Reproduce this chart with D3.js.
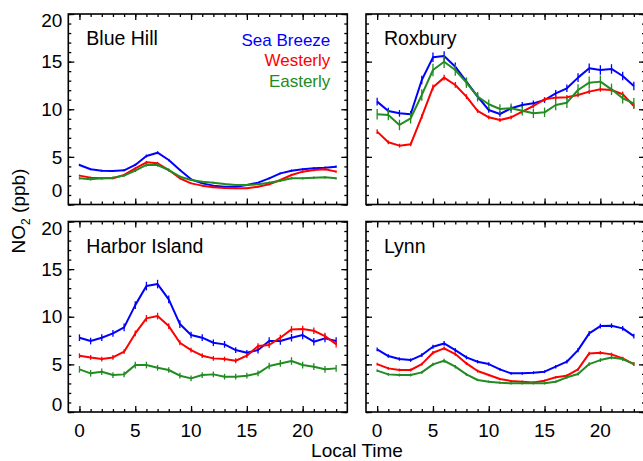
<!DOCTYPE html>
<html>
<head>
<meta charset="utf-8">
<script src="https://cdn.jsdelivr.net/npm/d3@7"></script>
<style>
  body { margin: 0; background: #fff; }
  svg { display: block; }
  text { font-family: "Liberation Sans", Arial, Helvetica, sans-serif; fill: #000; }
</style>
</head>
<body>
<svg id="chart" width="643" height="461"></svg>
<script>
// Hour of day (local time)
const hours = [0, 1, 2, 3, 4, 5, 6, 7, 8, 9, 10, 11, 12, 13, 14, 15, 16, 17, 18, 19, 20, 21, 22, 23];

const sites = ["Blue Hill", "Roxbury", "Harbor Island", "Lynn"];
const regimes = ["Sea Breeze", "Westerly", "Easterly"];
const regimeColors = ["#0000ff", "#ff0000", "#228b22"];

const xTicks = [0, 5, 10, 15, 20];
const yTicks = [0, 5, 10, 15, 20];
const xLabel = "Local Time";

// Mean NO2 (ppb) by hour — Blue Hill
const blueHillSea  = [4.15, 3.70, 3.55, 3.52, 3.59, 4.15, 5.09, 5.44, 4.67, 3.62, 2.64, 2.22, 1.98, 1.87, 1.87, 2.05, 2.29, 2.75, 3.27, 3.55, 3.69, 3.80, 3.87, 3.97];
const blueHillWest = [3.03, 2.82, 2.75, 2.75, 3.10, 3.80, 4.43, 4.32, 3.62, 2.75, 2.22, 1.98, 1.80, 1.73, 1.70, 1.70, 1.87, 2.12, 2.57, 3.10, 3.45, 3.62, 3.69, 3.45];
const blueHillEast = [2.75, 2.64, 2.75, 2.82, 3.03, 3.55, 4.15, 4.15, 3.62, 2.92, 2.57, 2.40, 2.29, 2.15, 2.05, 2.05, 2.12, 2.29, 2.50, 2.75, 2.75, 2.82, 2.85, 2.75];

// Roxbury
const roxburySea  = [10.80, 9.82, 9.57, 9.47, 13.07, 15.45, 15.59, 14.47, 12.90, 11.32, 9.92, 9.50, 10.10, 10.45, 10.62, 10.97, 11.67, 12.20, 13.32, 14.30, 14.12, 14.23, 13.49, 12.44];
const roxburyWest = [7.65, 6.53, 6.18, 6.32, 9.22, 12.30, 13.32, 12.55, 11.32, 9.82, 9.15, 8.87, 9.15, 9.75, 10.34, 11.04, 11.22, 11.25, 11.50, 11.85, 12.09, 12.02, 11.57, 10.34];
const roxburyEast = [9.47, 9.40, 8.35, 9.05, 11.50, 14.12, 14.99, 14.12, 12.79, 11.32, 10.52, 10.03, 10.10, 9.85, 9.57, 9.68, 10.45, 10.69, 12.02, 12.79, 12.90, 12.09, 11.15, 10.62];

// Harbor Island
const harborSea  = [7.80, 7.45, 7.80, 8.25, 8.88, 11.22, 13.22, 13.43, 11.82, 9.23, 8.08, 7.80, 7.27, 7.10, 6.50, 6.22, 6.50, 7.45, 7.45, 7.80, 8.08, 7.38, 7.73, 7.45];
const harborWest = [5.91, 5.73, 5.56, 5.73, 6.33, 8.25, 9.83, 10.07, 9.02, 7.27, 6.50, 5.91, 5.63, 5.56, 5.38, 5.91, 6.92, 7.03, 7.80, 8.67, 8.71, 8.53, 7.97, 7.13];
const harborEast = [4.48, 4.06, 4.23, 3.88, 3.95, 4.93, 4.93, 4.65, 4.41, 3.81, 3.53, 3.88, 3.95, 3.71, 3.71, 3.81, 4.06, 4.83, 5.10, 5.35, 4.93, 4.76, 4.48, 4.58];

// Lynn
const lynnSea  = [6.57, 5.87, 5.56, 5.45, 5.98, 6.85, 7.20, 6.50, 5.73, 5.28, 5.03, 4.48, 4.06, 4.06, 4.13, 4.23, 4.76, 5.28, 6.50, 8.25, 9.02, 9.06, 8.78, 7.97];
const lynnWest = [5.03, 4.58, 4.41, 4.41, 5.03, 6.22, 6.68, 6.08, 5.10, 4.30, 3.88, 3.46, 3.25, 3.18, 3.11, 3.29, 3.64, 3.81, 4.48, 6.15, 6.22, 6.05, 5.63, 5.03];
const lynnEast = [4.34, 3.95, 3.88, 3.88, 4.16, 5.00, 5.38, 4.76, 3.95, 3.36, 3.18, 3.08, 3.01, 3.01, 3.01, 3.01, 3.18, 3.64, 3.99, 5.03, 5.45, 5.73, 5.56, 5.03];

// Standard error of the hourly means (ppb)
const blueHillSeaErr  = [0.12, 0.10, 0.10, 0.10, 0.10, 0.12, 0.15, 0.15, 0.12, 0.10, 0.08, 0.08, 0.08, 0.08, 0.08, 0.08, 0.08, 0.10, 0.10, 0.12, 0.12, 0.12, 0.12, 0.12];
const blueHillWestErr = [0.10, 0.10, 0.10, 0.10, 0.10, 0.12, 0.15, 0.15, 0.12, 0.10, 0.08, 0.08, 0.08, 0.08, 0.08, 0.08, 0.08, 0.10, 0.10, 0.12, 0.12, 0.12, 0.12, 0.12];
const blueHillEastErr = [0.12, 0.12, 0.12, 0.12, 0.12, 0.15, 0.18, 0.18, 0.15, 0.12, 0.10, 0.10, 0.10, 0.10, 0.10, 0.10, 0.10, 0.12, 0.12, 0.12, 0.12, 0.12, 0.12, 0.12];

const roxburySeaErr  = [0.40, 0.35, 0.35, 0.35, 0.45, 0.50, 0.50, 0.45, 0.40, 0.35, 0.30, 0.30, 0.30, 0.30, 0.30, 0.30, 0.35, 0.40, 0.45, 0.50, 0.50, 0.50, 0.45, 0.45];
const roxburyWestErr = [0.25, 0.20, 0.20, 0.20, 0.25, 0.30, 0.30, 0.30, 0.25, 0.20, 0.20, 0.20, 0.20, 0.20, 0.20, 0.20, 0.25, 0.25, 0.25, 0.25, 0.25, 0.25, 0.30, 0.30];
const roxburyEastErr = [0.55, 0.55, 0.55, 0.55, 0.60, 0.65, 0.65, 0.60, 0.55, 0.50, 0.50, 0.50, 0.50, 0.50, 0.50, 0.50, 0.55, 0.55, 0.60, 0.65, 0.65, 0.60, 0.55, 0.55];

const harborSeaErr  = [0.35, 0.35, 0.35, 0.35, 0.40, 0.40, 0.45, 0.45, 0.40, 0.40, 0.35, 0.35, 0.35, 0.35, 0.30, 0.30, 0.35, 0.40, 0.40, 0.40, 0.45, 0.40, 0.40, 0.40];
const harborWestErr = [0.25, 0.25, 0.25, 0.25, 0.25, 0.30, 0.35, 0.35, 0.30, 0.25, 0.25, 0.25, 0.25, 0.25, 0.25, 0.25, 0.30, 0.30, 0.30, 0.35, 0.35, 0.35, 0.35, 0.35];
const harborEastErr = [0.35, 0.35, 0.35, 0.30, 0.30, 0.35, 0.35, 0.30, 0.30, 0.30, 0.30, 0.30, 0.30, 0.30, 0.30, 0.30, 0.30, 0.35, 0.35, 0.40, 0.35, 0.35, 0.35, 0.35];

const lynnSeaErr  = [0.20, 0.18, 0.18, 0.18, 0.20, 0.22, 0.25, 0.22, 0.20, 0.18, 0.18, 0.15, 0.15, 0.15, 0.15, 0.15, 0.18, 0.20, 0.22, 0.25, 0.25, 0.25, 0.25, 0.25];
const lynnWestErr = [0.15, 0.15, 0.15, 0.15, 0.15, 0.18, 0.20, 0.18, 0.15, 0.15, 0.12, 0.12, 0.12, 0.12, 0.12, 0.12, 0.12, 0.15, 0.15, 0.18, 0.18, 0.18, 0.18, 0.18];
const lynnEastErr = [0.15, 0.15, 0.15, 0.15, 0.15, 0.18, 0.20, 0.18, 0.15, 0.12, 0.12, 0.12, 0.12, 0.12, 0.12, 0.12, 0.12, 0.15, 0.15, 0.18, 0.20, 0.20, 0.20, 0.20];

// Per-site tables: [series, errors] in regime order
const siteSeries = [
  [[blueHillSea, blueHillSeaErr], [blueHillWest, blueHillWestErr], [blueHillEast, blueHillEastErr]],
  [[roxburySea, roxburySeaErr], [roxburyWest, roxburyWestErr], [roxburyEast, roxburyEastErr]],
  [[harborSea, harborSeaErr], [harborWest, harborWestErr], [harborEast, harborEastErr]],
  [[lynnSea, lynnSeaErr], [lynnWest, lynnWestErr], [lynnEast, lynnEastErr]]
];

// ---- layout ----
const svg = d3.select("#chart");
const colLeft = [68.3, 366];
const rowTop = [14, 221.5];
const panelW = 279;
const panelH = 190.5;
const majorLen = 6, minorLen = 3;

sites.forEach((site, i) => {
  const col = i % 2, row = Math.floor(i / 2);
  const x0 = colLeft[col], y0 = rowTop[row];
  const g = svg.append("g").attr("transform", `translate(${x0},${y0})`);

  const x = d3.scaleLinear().domain([-1, 24]).range([0, panelW]);
  const y = d3.scaleLinear().domain([0, 20]).range([panelH, 0]);

  // minor and major ticks on all four sides, pointing inward
  const addAxis = (axisFn, scale, values, len, tx, ty) => {
    const a = g.append("g")
      .attr("transform", `translate(${tx},${ty})`)
      .call(axisFn(scale).tickValues(values).tickSizeInner(-len).tickSizeOuter(0).tickFormat(""));
    a.select(".domain").remove();
    a.selectAll("line").attr("stroke", "#000").attr("stroke-width", 1.3);
    return a;
  };
  addAxis(d3.axisBottom, x, hours, minorLen, 0, panelH);
  addAxis(d3.axisBottom, x, xTicks, majorLen, 0, panelH);
  addAxis(d3.axisTop, x, hours, minorLen, 0, 0);
  addAxis(d3.axisTop, x, xTicks, majorLen, 0, 0);
  const yMinor = d3.range(0, 21);
  addAxis(d3.axisLeft, y, yMinor, minorLen, 0, 0);
  addAxis(d3.axisLeft, y, yTicks, majorLen, 0, 0);
  addAxis(d3.axisRight, y, yMinor, minorLen, panelW, 0);
  addAxis(d3.axisRight, y, yTicks, majorLen, panelW, 0);

  // frame
  g.append("rect")
    .attr("x", 0).attr("y", 0).attr("width", panelW).attr("height", panelH)
    .attr("fill", "none").attr("stroke", "#000").attr("stroke-width", 1.6);

  // y tick labels on the left column
  if (col === 0) {
    const shiftBottom = row === 0 ? -14 : -8;
    const shiftTop = row === 0 ? 6 : 7;
    g.append("g").selectAll("text").data(yTicks).join("text")
      .attr("x", -6)
      .attr("y", d => y(d) + (d === 0 ? shiftBottom : d === 20 ? shiftTop : 0))
      .attr("dy", "0.35em")
      .attr("text-anchor", "end")
      .attr("font-size", 19)
      .text(d => d);
  }
  // x tick labels on the bottom row
  if (row === 1) {
    g.append("g").selectAll("text").data(xTicks).join("text")
      .attr("x", d => x(d))
      .attr("y", panelH + 25)
      .attr("text-anchor", "middle")
      .attr("font-size", 19)
      .text(d => d);
  }

  // site name
  g.append("text")
    .attr("x", 18).attr("y", 31)
    .attr("font-size", 19.5)
    .text(site);

  // series lines with error bars
  const line = d3.line().x((d, k) => x(hours[k])).y(d => y(d));
  siteSeries[i].forEach(([vals, errs], s) => {
    const color = regimeColors[s];
    g.append("path")
      .datum(vals)
      .attr("d", line)
      .attr("fill", "none")
      .attr("stroke", color)
      .attr("stroke-width", 2)
      .attr("stroke-linejoin", "round");
    g.append("g").selectAll("line").data(vals).join("line")
      .attr("x1", (d, k) => x(hours[k])).attr("x2", (d, k) => x(hours[k]))
      .attr("y1", (d, k) => y(d - errs[k])).attr("y2", (d, k) => y(d + errs[k]))
      .attr("stroke", color)
      .attr("stroke-width", 1.3);
  });

  // regime legend in the first panel
  if (i === 0) {
    g.append("g").selectAll("text").data(regimes).join("text")
      .attr("x", 262).attr("y", (d, k) => 32 + k * 20.3)
      .attr("text-anchor", "end")
      .attr("font-size", 17)
      .style("fill", (d, k) => regimeColors[k])
      .text(d => d);
  }
});

// axis titles
svg.append("text")
  .attr("x", 357).attr("y", 456.5)
  .attr("text-anchor", "middle")
  .attr("font-size", 19)
  .text(xLabel);

const yTitle = svg.append("text")
  .attr("transform", "translate(25,211) rotate(-90)")
  .attr("text-anchor", "middle")
  .attr("font-size", 19);
yTitle.append("tspan").text("NO");
yTitle.append("tspan").attr("font-size", 12).attr("dy", 5).text("2");
yTitle.append("tspan").attr("dy", -5).text(" (ppb)");
</script>
</body>
</html>
